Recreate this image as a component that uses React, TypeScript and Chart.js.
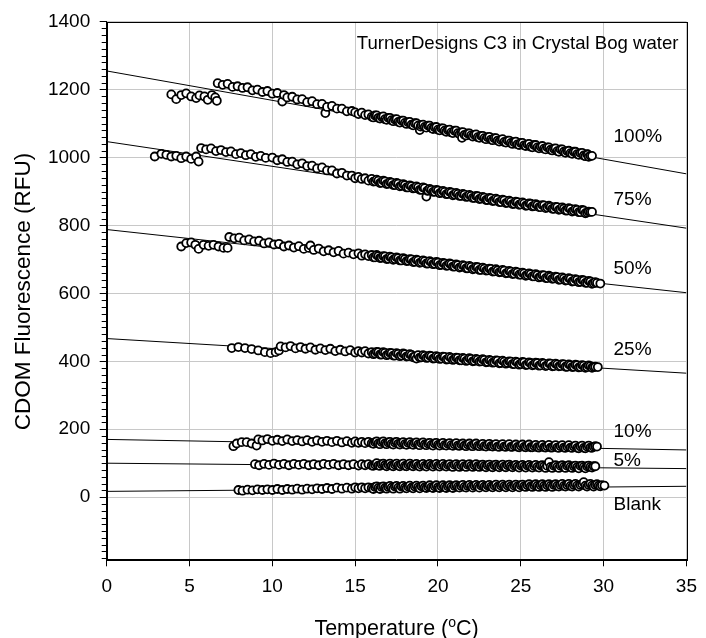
import React, { useEffect, useRef } from "react";
import { Chart, registerables } from "chart.js";

Chart.register(...registerables);

const FONT = '"Liberation Sans", Arial, Helvetica, sans-serif';

const X_TICKS = [0, 5, 10, 15, 20, 25, 30, 35];
const Y_TICKS = [0, 200, 400, 600, 800, 1000, 1200, 1400];

const CHART_TITLE = "TurnerDesigns C3 in Crystal Bog water";
const X_TITLE = "Temperature (";
const X_TITLE_SUP = "o";
const X_TITLE_END = "C)";
const Y_TITLE = "CDOM Fluorescence (RFU)";

const SERIES_NAMES = ["100%", "75%", "50%", "25%", "10%", "5%", "Blank"];
const LABEL_X = 30.6;
const LABEL_Y = [1046, 860, 656, 418, 177, 91, -39];
const TITLE_POS = [15.1, 1319];

// fitted regression lines, value at x=0 and at x=35
const FIT_X = [0, 35];
const FIT_100 = [1255, 952];
const FIT_75 = [1047, 792];
const FIT_50 = [788, 602];
const FIT_25 = [467, 365];
const FIT_10 = [170, 139];
const FIT_5 = [100, 84];
const FIT_BLANK = [17, 32];

const P100: [number, number][] = [
  [3.9, 1186], [4.2, 1172], [4.5, 1184], [4.8, 1189], [5.1, 1180], [5.4, 1175], [5.6, 1183], [5.9, 1180], [6.1, 1170], [6.35, 1184], [6.55, 1177], [6.65, 1167],
  [6.7, 1219], [7.0, 1214], [7.3, 1217], [7.6, 1208], [7.9, 1210], [8.2, 1205], [8.5, 1207], [8.8, 1198], [9.1, 1200], [9.4, 1193], [9.7, 1196], [10.0, 1188],
  [10.3, 1190], [10.6, 1165], [10.7, 1184], [10.9, 1177], [11.2, 1179], [11.5, 1171], [11.8, 1172], [12.1, 1163], [12.4, 1166], [12.7, 1157], [13.0, 1158],
  [13.2, 1131], [13.3, 1149], [13.6, 1152], [13.9, 1144], [14.2, 1144], [14.5, 1136], [14.8, 1137], [15.0, 1133], [15.2, 1128], [15.4, 1132], [15.6, 1125],
  [15.8, 1127], [16.0, 1120], [16.2, 1124], [16.4, 1117], [16.6, 1120], [16.8, 1113], [17.0, 1117], [17.2, 1110], [17.4, 1112], [17.6, 1105], [17.8, 1109],
  [18.0, 1102], [18.2, 1104], [18.4, 1097], [18.6, 1101], [18.8, 1094], [18.9, 1081], [19.0, 1096], [19.2, 1090], [19.4, 1094], [19.6, 1087], [19.8, 1089],
  [20.0, 1082], [20.2, 1086], [20.4, 1079], [20.6, 1081], [20.8, 1074], [21.0, 1079], [21.2, 1072], [21.4, 1074], [21.45, 1058], [21.6, 1067], [21.8, 1071],
  [22.0, 1065], [22.2, 1067], [22.4, 1060], [22.6, 1064], [22.8, 1057], [23.0, 1060], [23.2, 1053], [23.4, 1057], [23.6, 1050], [23.8, 1052], [24.0, 1046],
  [24.2, 1050], [24.4, 1043], [24.6, 1045], [24.8, 1039], [25.0, 1043], [25.2, 1036], [25.4, 1039], [25.6, 1032], [25.8, 1037], [26.0, 1030], [26.2, 1032],
  [26.4, 1026], [26.6, 1030], [26.8, 1023], [27.0, 1026], [27.2, 1019], [27.4, 1024], [27.6, 1017], [27.8, 1019], [28.0, 1013], [28.2, 1017], [28.4, 1010],
  [28.6, 1013], [28.8, 1006], [29.0, 1010], [29.1, 1002], [29.2, 1005], [29.3, 1005],
];
const P100_DENSE: [number, number][] = [
  [16.1, 1118], [16.3, 1124], [16.5, 1115], [16.7, 1121], [16.9, 1111], [17.1, 1117], [17.3, 1107], [17.5, 1113], [17.7, 1103], [17.9, 1109], [18.1, 1099],
  [18.3, 1105], [18.5, 1095], [18.7, 1101], [18.95, 1091], [19.1, 1097], [19.3, 1088], [19.5, 1094], [19.7, 1084], [19.9, 1090], [20.1, 1080], [20.3, 1086],
  [20.5, 1076], [20.7, 1082], [20.9, 1072], [21.1, 1079], [21.3, 1069], [21.5, 1075], [21.7, 1065], [21.9, 1071], [22.1, 1062], [22.3, 1068], [22.5, 1058],
  [22.7, 1064], [22.9, 1054], [23.1, 1061], [23.3, 1051], [23.5, 1057], [23.7, 1047], [23.9, 1054], [24.1, 1044], [24.3, 1050], [24.5, 1040], [24.7, 1047],
  [24.9, 1037], [25.1, 1043], [25.3, 1034], [25.5, 1040], [25.7, 1030], [25.9, 1037], [26.1, 1027], [26.3, 1034], [26.5, 1024], [26.7, 1030], [26.9, 1021],
  [27.1, 1027], [27.3, 1017], [27.5, 1024], [27.7, 1014], [27.9, 1020], [28.1, 1011], [28.3, 1017], [28.5, 1008], [28.7, 1014], [28.9, 1004], [29.05, 1009],
];

const P75: [number, number][] = [
  [2.9, 1003], [3.3, 1011], [3.6, 1008], [3.9, 1003], [4.2, 1005], [4.5, 998], [4.8, 1003], [5.1, 996], [5.4, 1003], [5.55, 988],
  [5.7, 1028], [6.0, 1024], [6.3, 1027], [6.6, 1019], [6.9, 1022], [7.2, 1016], [7.5, 1018], [7.8, 1010], [8.1, 1013], [8.4, 1007], [8.7, 1010], [9.0, 1002],
  [9.3, 1005], [9.6, 999], [10.0, 1000], [10.3, 992], [10.6, 995], [10.9, 987], [11.2, 988], [11.5, 980], [11.8, 983], [12.1, 975], [12.4, 976], [12.7, 968],
  [13.0, 971], [13.3, 962], [13.6, 962], [13.9, 953], [14.2, 955], [14.5, 947], [14.8, 947], [15.0, 939], [15.2, 943], [15.4, 937], [15.6, 939], [15.8, 932],
  [16.0, 937], [16.2, 930], [16.4, 932], [16.6, 926], [16.8, 930], [17.0, 923], [17.2, 926], [17.4, 919], [17.6, 923], [17.8, 917], [18.0, 919], [18.2, 912],
  [18.4, 916], [18.6, 910], [18.8, 912], [19.0, 905], [19.2, 910], [19.3, 885], [19.4, 903], [19.6, 905], [19.8, 899], [20.0, 903], [20.2, 897], [20.4, 899],
  [20.6, 893], [20.8, 897], [21.0, 891], [21.2, 893], [21.4, 887], [21.6, 891], [21.8, 885], [22.0, 887], [22.2, 881], [22.4, 886], [22.6, 879], [22.8, 882],
  [23.0, 875], [23.2, 880], [23.4, 873], [23.6, 876], [23.8, 869], [24.0, 874], [24.2, 867], [24.4, 870], [24.6, 864], [24.8, 869], [25.0, 862], [25.2, 865],
  [25.4, 859], [25.6, 864], [25.8, 857], [26.0, 860], [26.2, 854], [26.4, 859], [26.6, 853], [26.8, 855], [27.0, 849], [27.2, 854], [27.4, 848], [27.6, 850],
  [27.8, 844], [28.0, 849], [28.2, 843], [28.4, 846], [28.6, 839], [28.8, 844], [29.0, 838], [29.2, 840], [29.3, 840],
];
const P75_DENSE: [number, number][] = [
  [16.1, 929], [16.3, 935], [16.5, 925], [16.7, 932], [16.9, 922], [17.1, 928], [17.3, 919], [17.5, 925], [17.7, 915], [17.9, 922], [18.1, 912], [18.3, 918],
  [18.5, 909], [18.7, 915], [18.9, 905], [19.1, 912], [19.35, 902], [19.5, 908], [19.7, 899], [19.9, 905], [20.1, 895], [20.3, 902], [20.5, 892], [20.7, 899],
  [20.9, 889], [21.1, 896], [21.3, 887], [21.5, 893], [21.7, 884], [21.9, 890], [22.1, 881], [22.3, 887], [22.5, 878], [22.7, 884], [22.9, 875], [23.1, 881],
  [23.3, 872], [23.5, 879], [23.7, 869], [23.9, 876], [24.1, 866], [24.3, 873], [24.5, 863], [24.7, 870], [24.9, 861], [25.1, 868], [25.3, 858], [25.5, 865],
  [25.7, 856], [25.9, 863], [26.1, 854], [26.3, 860], [26.5, 851], [26.7, 858], [26.9, 849], [27.1, 855], [27.3, 846], [27.5, 853], [27.7, 844], [27.9, 851],
  [28.1, 841], [28.3, 848], [28.5, 839], [28.7, 846], [28.9, 836], [29.1, 841],
];

const P50: [number, number][] = [
  [4.5, 738], [4.8, 748], [5.1, 750], [5.35, 743], [5.55, 731], [5.85, 743], [6.15, 740], [6.45, 743], [6.75, 738], [7.05, 734], [7.3, 734],
  [7.4, 766], [7.7, 762], [8.0, 764], [8.3, 756], [8.6, 759], [8.9, 753], [9.2, 755], [9.5, 747], [9.8, 750], [10.1, 744], [10.4, 746], [10.7, 738],
  [11.0, 741], [11.3, 735], [11.6, 739], [11.9, 731], [12.2, 734], [12.3, 741], [12.5, 728], [12.8, 732], [13.1, 724], [13.4, 727], [13.7, 721], [14.0, 725],
  [14.3, 717], [14.6, 720], [14.9, 715], [15.2, 718], [15.4, 711], [15.6, 715], [15.8, 710], [16.0, 713], [16.2, 706], [16.4, 710], [16.6, 705], [16.8, 709],
  [17.0, 702], [17.2, 706], [17.4, 701], [17.6, 704], [17.8, 697], [18.0, 701], [18.2, 696], [18.4, 700], [18.6, 693], [18.8, 697], [19.0, 692], [19.2, 695],
  [19.4, 688], [19.6, 692], [19.8, 687], [20.0, 691], [20.2, 684], [20.4, 688], [20.6, 682], [20.8, 686], [21.0, 679], [21.2, 683], [21.4, 678], [21.6, 681],
  [21.8, 674], [22.0, 678], [22.2, 673], [22.4, 677], [22.6, 669], [22.8, 673], [23.0, 668], [23.2, 672], [23.4, 665], [23.6, 668], [23.8, 663], [24.0, 667],
  [24.2, 660], [24.4, 664], [24.6, 658], [24.8, 662], [25.0, 655], [25.2, 659], [25.4, 654], [25.6, 657], [25.8, 650], [26.0, 654], [26.2, 649], [26.4, 653],
  [26.6, 645], [26.8, 649], [27.0, 644], [27.2, 648], [27.4, 641], [27.6, 644], [27.8, 639], [28.0, 643], [28.2, 636], [28.4, 640], [28.6, 634], [28.8, 638],
  [29.0, 631], [29.2, 635], [29.4, 630], [29.6, 631], [29.8, 629],
];
const P50_DENSE: [number, number][] = [
  [16.1, 706], [16.3, 713], [16.5, 704], [16.7, 710], [16.9, 701], [17.1, 708], [17.3, 699], [17.5, 706], [17.7, 697], [17.9, 704], [18.1, 695], [18.3, 701],
  [18.5, 692], [18.7, 699], [18.9, 690], [19.1, 697], [19.3, 688], [19.5, 695], [19.7, 686], [19.9, 693], [20.1, 683], [20.3, 690], [20.5, 681], [20.7, 688],
  [20.9, 679], [21.1, 685], [21.3, 676], [21.5, 683], [21.7, 674], [21.9, 681], [22.1, 671], [22.3, 678], [22.5, 669], [22.7, 676], [22.9, 667], [23.1, 673],
  [23.3, 664], [23.5, 671], [23.7, 662], [23.9, 669], [24.1, 659], [24.3, 666], [24.5, 657], [24.7, 664], [24.9, 655], [25.1, 661], [25.3, 652], [25.5, 659],
  [25.7, 650], [25.9, 657], [26.1, 647], [26.3, 654], [26.5, 645], [26.7, 652], [26.9, 643], [27.1, 649], [27.3, 640], [27.5, 647], [27.7, 638], [27.9, 645],
  [28.1, 635], [28.3, 642], [28.5, 633], [28.7, 640], [28.9, 631], [29.1, 637], [29.3, 628], [29.5, 633],
];

const P25: [number, number][] = [
  [7.55, 439], [7.95, 442], [8.35, 439], [8.75, 436], [9.15, 432], [9.55, 427], [9.9, 424], [10.2, 427], [10.4, 432],
  [10.5, 444], [10.8, 441], [11.1, 445], [11.4, 438], [11.7, 442], [12.0, 437], [12.3, 441], [12.6, 434], [12.9, 438], [13.2, 433], [13.5, 437], [13.8, 430],
  [14.1, 434], [14.4, 429], [14.7, 433], [15.0, 426], [15.2, 430], [15.4, 426], [15.6, 430], [15.8, 423], [16.0, 427], [16.2, 423], [16.4, 427], [16.6, 420],
  [16.8, 425], [17.0, 420], [17.2, 424], [17.4, 417], [17.6, 422], [17.8, 417], [18.0, 421], [18.2, 415], [18.4, 419], [18.6, 414], [18.7, 408], [18.8, 418],
  [19.0, 412], [19.2, 416], [19.4, 411], [19.6, 415], [19.8, 409], [20.0, 413], [20.2, 408], [20.4, 413], [20.6, 406], [20.8, 410], [21.0, 406], [21.2, 410],
  [21.4, 403], [21.6, 408], [21.8, 403], [22.0, 407], [22.2, 401], [22.4, 405], [22.6, 400], [22.8, 404], [23.0, 398], [23.2, 402], [23.4, 397], [23.6, 402],
  [23.8, 395], [24.0, 399], [24.2, 395], [24.4, 399], [24.6, 392], [24.8, 397], [25.0, 392], [25.2, 397], [25.4, 390], [25.6, 395], [25.8, 390], [26.0, 395],
  [26.2, 388], [26.4, 393], [26.6, 388], [26.8, 393], [27.0, 386], [27.2, 391], [27.4, 386], [27.6, 391], [27.8, 384], [28.0, 389], [28.2, 384], [28.4, 389],
  [28.6, 383], [28.8, 387], [29.0, 383], [29.2, 386], [29.4, 383], [29.65, 383],
];
const P25_DENSE: [number, number][] = [
  [16.1, 421], [16.3, 428], [16.5, 420], [16.7, 427], [16.9, 418], [17.1, 425], [17.3, 417], [17.5, 424], [17.7, 415], [17.9, 423], [18.1, 414], [18.3, 421],
  [18.5, 412], [18.9, 411], [19.1, 418], [19.3, 410], [19.5, 417], [19.7, 408], [19.9, 415], [20.1, 407], [20.3, 414], [20.5, 405], [20.7, 413], [20.9, 404],
  [21.1, 411], [21.3, 403], [21.5, 410], [21.7, 401], [21.9, 409], [22.1, 400], [22.3, 407], [22.5, 399], [22.7, 406], [22.9, 397], [23.1, 404], [23.3, 396],
  [23.5, 403], [23.7, 394], [23.9, 402], [24.1, 393], [24.3, 400], [24.5, 392], [24.7, 399], [24.9, 390], [25.1, 398], [25.3, 389], [25.5, 397], [25.7, 388],
  [25.9, 396], [26.1, 387], [26.3, 395], [26.5, 386], [26.7, 394], [26.9, 385], [27.1, 393], [27.3, 385], [27.5, 392], [27.7, 384], [27.9, 391], [28.1, 383],
  [28.3, 390], [28.5, 382], [28.7, 389], [28.9, 381], [29.1, 388], [29.3, 381], [29.5, 384],
];

const P10: [number, number][] = [
  [7.65, 150], [7.85, 158], [8.15, 162], [8.45, 162], [8.75, 158], [9.05, 152],
  [9.15, 170], [9.4, 167], [9.7, 171], [10.0, 166], [10.3, 169], [10.6, 165], [10.9, 170], [11.2, 165], [11.5, 168], [11.8, 164], [12.1, 168], [12.4, 163],
  [12.7, 167], [13.0, 163], [13.3, 166], [13.6, 162], [13.9, 166], [14.2, 161], [14.5, 165], [14.8, 160], [15.0, 164], [15.2, 160], [15.4, 163], [15.6, 159],
  [15.8, 163], [16.0, 159], [16.2, 162], [16.4, 158], [16.6, 162], [16.8, 158], [17.0, 161], [17.2, 157], [17.4, 161], [17.6, 157], [17.8, 160], [18.0, 156],
  [18.2, 160], [18.4, 156], [18.6, 159], [18.8, 155], [19.0, 159], [19.2, 155], [19.4, 158], [19.6, 154], [19.8, 158], [20.0, 154], [20.2, 157], [20.4, 153],
  [20.6, 157], [20.8, 153], [21.0, 156], [21.2, 152], [21.4, 156], [21.6, 152], [21.8, 155], [22.0, 151], [22.2, 155], [22.4, 151], [22.6, 154], [22.8, 150],
  [23.0, 154], [23.2, 150], [23.4, 153], [23.6, 149], [23.8, 153], [24.0, 149], [24.2, 152], [24.4, 148], [24.6, 152], [24.8, 148], [25.0, 151], [25.2, 148],
  [25.4, 151], [25.6, 147], [25.8, 151], [26.0, 147], [26.2, 150], [26.4, 147], [26.6, 150], [26.8, 146], [27.0, 150], [27.2, 146], [27.4, 150], [27.6, 146],
  [27.8, 149], [28.0, 146], [28.2, 149], [28.4, 145], [28.6, 149], [28.8, 145], [29.0, 149], [29.2, 146], [29.4, 148], [29.6, 149],
];
const P10_DENSE: [number, number][] = [
  [16.1, 157], [16.3, 164], [16.5, 156], [16.7, 164], [16.9, 156], [17.1, 163], [17.3, 155], [17.5, 163], [17.7, 155], [17.9, 162], [18.1, 154], [18.3, 162],
  [18.5, 154], [18.7, 161], [18.9, 153], [19.1, 161], [19.3, 153], [19.5, 160], [19.7, 152], [19.9, 160], [20.1, 152], [20.3, 160], [20.5, 152], [20.7, 159],
  [20.9, 151], [21.1, 159], [21.3, 151], [21.5, 158], [21.7, 150], [21.9, 158], [22.1, 150], [22.3, 158], [22.5, 150], [22.7, 157], [22.9, 149], [23.1, 157],
  [23.3, 149], [23.5, 156], [23.7, 148], [23.9, 156], [24.1, 148], [24.3, 156], [24.5, 148], [24.7, 155], [24.9, 147], [25.1, 155], [25.3, 147], [25.5, 155],
  [25.7, 147], [25.9, 154], [26.1, 146], [26.3, 154], [26.5, 146], [26.7, 154], [26.9, 146], [27.1, 153], [27.3, 145], [27.5, 153], [27.7, 145], [27.9, 153],
  [28.1, 145], [28.3, 152], [28.5, 144], [28.7, 152], [28.9, 144], [29.1, 152], [29.3, 145], [29.5, 150],
];

const P5: [number, number][] = [
  [8.95, 97], [9.2, 94], [9.5, 98], [9.8, 95], [10.1, 99], [10.4, 95], [10.7, 98], [11.0, 94], [11.3, 98], [11.6, 95], [11.9, 98], [12.2, 94], [12.5, 97],
  [12.8, 94], [13.1, 98], [13.4, 95], [13.7, 98], [14.0, 94], [14.3, 97], [14.6, 94], [14.9, 97], [15.2, 93], [15.4, 97], [15.6, 94], [15.8, 97], [16.0, 93],
  [16.2, 96], [16.4, 93], [16.6, 97], [16.8, 94], [17.0, 96], [17.2, 93], [17.4, 96], [17.6, 93], [17.8, 96], [18.0, 92], [18.2, 96], [18.4, 93], [18.6, 96],
  [18.8, 92], [19.0, 95], [19.2, 92], [19.4, 96], [19.6, 93], [19.8, 95], [20.0, 92], [20.2, 95], [20.4, 92], [20.6, 95], [20.8, 91], [21.0, 95], [21.2, 92],
  [21.4, 94], [21.6, 91], [21.8, 95], [22.0, 92], [22.2, 94], [22.4, 91], [22.6, 94], [22.8, 91], [23.0, 94], [23.2, 90], [23.4, 94], [23.6, 91], [23.8, 93],
  [24.0, 90], [24.2, 94], [24.4, 91], [24.6, 93], [24.8, 90], [25.0, 93], [25.2, 90], [25.4, 93], [25.6, 90], [25.8, 92], [26.0, 89], [26.2, 93], [26.4, 90],
  [26.6, 92], [26.7, 103], [26.8, 89], [27.0, 92], [27.2, 89], [27.4, 92], [27.6, 89], [27.8, 92], [28.0, 89], [28.2, 91], [28.4, 88], [28.6, 92], [28.8, 89],
  [29.0, 91], [29.2, 89], [29.4, 91], [29.5, 91],
];
const P5_DENSE: [number, number][] = [
  [16.1, 92], [16.3, 100], [16.5, 92], [16.7, 99], [16.9, 91], [17.1, 99], [17.3, 91], [17.5, 99], [17.7, 91], [17.9, 99], [18.1, 91], [18.3, 99], [18.5, 91],
  [18.7, 98], [18.9, 90], [19.1, 98], [19.3, 90], [19.5, 98], [19.7, 90], [19.9, 98], [20.1, 90], [20.3, 98], [20.5, 90], [20.7, 97], [20.9, 89], [21.1, 97],
  [21.3, 89], [21.5, 97], [21.7, 89], [21.9, 97], [22.1, 89], [22.3, 97], [22.5, 89], [22.7, 96], [22.9, 88], [23.1, 96], [23.3, 88], [23.5, 96], [23.7, 88],
  [23.9, 96], [24.1, 88], [24.3, 96], [24.5, 88], [24.7, 95], [24.9, 87], [25.1, 95], [25.3, 87], [25.5, 95], [25.7, 87], [25.9, 95], [26.1, 87], [26.3, 94],
  [26.5, 86], [26.9, 86], [27.1, 94], [27.3, 86], [27.5, 94], [27.7, 86], [27.9, 94], [28.1, 86], [28.3, 93], [28.5, 85], [28.7, 93], [28.9, 85], [29.1, 93],
  [29.3, 87],
];

const PBLANK: [number, number][] = [
  [7.95, 21], [8.2, 19], [8.5, 22], [8.8, 20], [9.1, 23], [9.4, 21], [9.7, 23], [10.0, 21], [10.3, 24], [10.6, 21], [10.9, 24], [11.2, 22], [11.5, 25],
  [11.8, 22], [12.1, 25], [12.4, 23], [12.7, 26], [13.0, 24], [13.3, 27], [13.6, 24], [13.9, 28], [14.2, 25], [14.5, 28], [14.8, 25], [15.0, 29], [15.2, 26],
  [15.4, 29], [15.6, 26], [15.8, 29], [16.0, 27], [16.2, 30], [16.4, 27], [16.6, 30], [16.8, 27], [17.0, 30], [17.2, 28], [17.4, 31], [17.6, 28], [17.8, 31],
  [18.0, 28], [18.2, 31], [18.4, 28], [18.6, 31], [18.8, 29], [19.0, 32], [19.2, 29], [19.4, 31], [19.6, 29], [19.8, 32], [20.0, 29], [20.2, 32], [20.4, 30],
  [20.6, 32], [20.8, 30], [21.0, 33], [21.2, 30], [21.4, 33], [21.6, 30], [21.8, 33], [22.0, 31], [22.2, 33], [22.4, 31], [22.6, 34], [22.8, 31], [23.0, 34],
  [23.2, 31], [23.4, 34], [23.6, 31], [23.8, 34], [24.0, 32], [24.2, 34], [24.4, 32], [24.6, 34], [24.8, 32], [25.0, 35], [25.2, 32], [25.4, 35], [25.6, 32],
  [25.8, 35], [26.0, 33], [26.2, 35], [26.4, 33], [26.6, 35], [26.8, 33], [27.0, 36], [27.2, 33], [27.4, 36], [27.6, 33], [27.8, 36], [28.0, 33], [28.2, 36],
  [28.4, 34], [28.6, 36], [28.8, 44], [28.9, 34], [29.1, 36], [29.3, 34], [29.5, 36], [29.7, 34], [29.9, 35], [30.05, 34],
];
const PBLANK_DENSE: [number, number][] = [
  [16.1, 24], [16.3, 32], [16.5, 24], [16.7, 32], [16.9, 25], [17.1, 33], [17.3, 25], [17.5, 33], [17.7, 25], [17.9, 33], [18.1, 26], [18.3, 34], [18.5, 26],
  [18.7, 34], [18.9, 26], [19.1, 34], [19.3, 27], [19.5, 35], [19.7, 27], [19.9, 35], [20.1, 27], [20.3, 35], [20.5, 27], [20.7, 35], [20.9, 27], [21.1, 35],
  [21.3, 28], [21.5, 36], [21.7, 28], [21.9, 36], [22.1, 28], [22.3, 36], [22.5, 28], [22.7, 36], [22.9, 29], [23.1, 36], [23.3, 29], [23.5, 37], [23.7, 29],
  [23.9, 37], [24.1, 29], [24.3, 37], [24.5, 29], [24.7, 37], [24.9, 29], [25.1, 37], [25.3, 30], [25.5, 38], [25.7, 30], [25.9, 38], [26.1, 30], [26.3, 38],
  [26.5, 30], [26.7, 38], [26.9, 30], [27.1, 38], [27.3, 31], [27.5, 39], [27.7, 31], [27.9, 39], [28.1, 31], [28.3, 39], [28.5, 31], [28.7, 39], [29.0, 31],
  [29.2, 39], [29.4, 31], [29.6, 38], [29.8, 32],
];

const SCATTERS = [
  [P100, P100_DENSE],
  [P75, P75_DENSE],
  [P50, P50_DENSE],
  [P25, P25_DENSE],
  [P10, P10_DENSE],
  [P5, P5_DENSE],
  [PBLANK, PBLANK_DENSE],
];
const FITS = [FIT_100, FIT_75, FIT_50, FIT_25, FIT_10, FIT_5, FIT_BLANK];

const decorPlugin = {
  id: "decor",
  afterDraw(chart: any) {
    const { ctx, chartArea: a } = chart;
    const xs = chart.scales.x;
    const ys = chart.scales.y;
    ctx.save();
    ctx.strokeStyle = "#000";
    ctx.lineWidth = 1;
    ctx.strokeRect(Math.round(a.left) + 0.5, Math.round(a.top) + 0.5, Math.round(a.right - a.left), Math.round(a.bottom - a.top));
    for (let v = -180; v <= 1400; v += 20) {
      if (v % 200 === 0) continue;
      const py = Math.round(ys.getPixelForValue(v)) + 0.5;
      ctx.beginPath();
      ctx.moveTo(a.left - 5, py);
      ctx.lineTo(a.left, py);
      ctx.stroke();
    }
    ctx.fillStyle = "#000";
    ctx.textBaseline = "alphabetic";
    ctx.textAlign = "left";
    ctx.font = `19px ${FONT}`;
    SERIES_NAMES.forEach((n, i) => {
      ctx.fillText(n, xs.getPixelForValue(LABEL_X), ys.getPixelForValue(LABEL_Y[i]));
    });
    ctx.font = `18.6px ${FONT}`;
    ctx.fillText(CHART_TITLE, xs.getPixelForValue(TITLE_POS[0]), ys.getPixelForValue(TITLE_POS[1]));

    const cx = (a.left + a.right) / 2;
    const mainFont = `21.5px ${FONT}`;
    const supFont = `14px ${FONT}`;
    ctx.font = mainFont;
    const w1 = ctx.measureText(X_TITLE).width;
    const w3 = ctx.measureText(X_TITLE_END).width;
    ctx.font = supFont;
    const w2 = ctx.measureText(X_TITLE_SUP).width;
    let px = cx - (w1 + w2 + w3) / 2;
    const base = 635;
    ctx.font = mainFont;
    ctx.fillText(X_TITLE, px, base);
    px += w1;
    ctx.font = supFont;
    ctx.fillText(X_TITLE_SUP, px, base - 8);
    px += w2;
    ctx.font = mainFont;
    ctx.fillText(X_TITLE_END, px, base);

    ctx.save();
    ctx.translate(29.5, (a.top + a.bottom) / 2 + 1);
    ctx.rotate(-Math.PI / 2);
    ctx.textAlign = "center";
    ctx.font = `22.5px ${FONT}`;
    ctx.fillText(Y_TITLE, 0, 0);
    ctx.restore();
    ctx.restore();
  },
};

export default function App() {
  const ref = useRef<HTMLCanvasElement | null>(null);
  useEffect(() => {
    if (!ref.current) return;
    const datasets: any[] = [];
    FITS.forEach((f, i) => {
      datasets.push({
        type: "line",
        label: SERIES_NAMES[i] + " fit",
        data: FIT_X.map((xv, j) => ({ x: xv, y: f[j] })),
        borderColor: "#000",
        borderWidth: 1,
        pointRadius: 0,
        fill: false,
        order: 10,
      });
    });
    SCATTERS.forEach(([main, dense], i) => {
      const pts = [...main, ...dense].sort((p, q) => p[0] - q[0]);
      datasets.push({
        type: "scatter",
        label: SERIES_NAMES[i],
        data: pts.map(([xv, yv]) => ({ x: xv, y: yv })),
        pointRadius: 4,
        pointBorderWidth: 1.8,
        borderColor: "#000",
        backgroundColor: "#fff",
        pointBackgroundColor: "#fff",
        pointBorderColor: "#000",
        order: 1,
      });
    });
    const chart = new Chart(ref.current, {
      type: "scatter",
      data: { datasets },
      plugins: [decorPlugin],
      options: {
        animation: false,
        responsive: false,
        maintainAspectRatio: false,
        layout: { padding: { left: 0, top: 21.7, right: 12, bottom: 0 } },
        plugins: { legend: { display: false }, tooltip: { enabled: false }, title: { display: false } },
        scales: {
          x: {
            type: "linear",
            min: 0,
            max: 35,
            afterBuildTicks: (s: any) => {
              s.ticks = X_TICKS.map((v) => ({ value: v }));
            },
            afterFit: (s: any) => {
              s.height = 78.7;
            },
            ticks: { font: { family: FONT, size: 19 }, color: "#000", padding: 9, maxRotation: 0, callback: (v: any) => String(v) },
            grid: { color: "#c8c8c8", lineWidth: 1, tickColor: "#000", tickLength: 7, drawTicks: true },
            border: { display: true, color: "#000", width: 1 },
          },
          y: {
            type: "linear",
            min: -183,
            max: 1400,
            afterBuildTicks: (s: any) => {
              s.ticks = Y_TICKS.map((v) => ({ value: v }));
            },
            afterFit: (s: any) => {
              s.width = 106.7;
            },
            ticks: { font: { family: FONT, size: 19 }, color: "#000", padding: 9.5, callback: (v: any) => String(v) },
            grid: { color: "#c8c8c8", lineWidth: 1, tickColor: "#000", tickLength: 7, drawTicks: true },
            border: { display: true, color: "#000", width: 1 },
          },
        },
      },
    });
    return () => chart.destroy();
  }, []);
  return (
    <div style={{ position: "absolute", left: 0, top: 0, width: 706, height: 638, background: "#fff" }}>
      <canvas ref={ref} width={706} height={638} style={{ display: "block", width: 706, height: 638 }} />
    </div>
  );
}
